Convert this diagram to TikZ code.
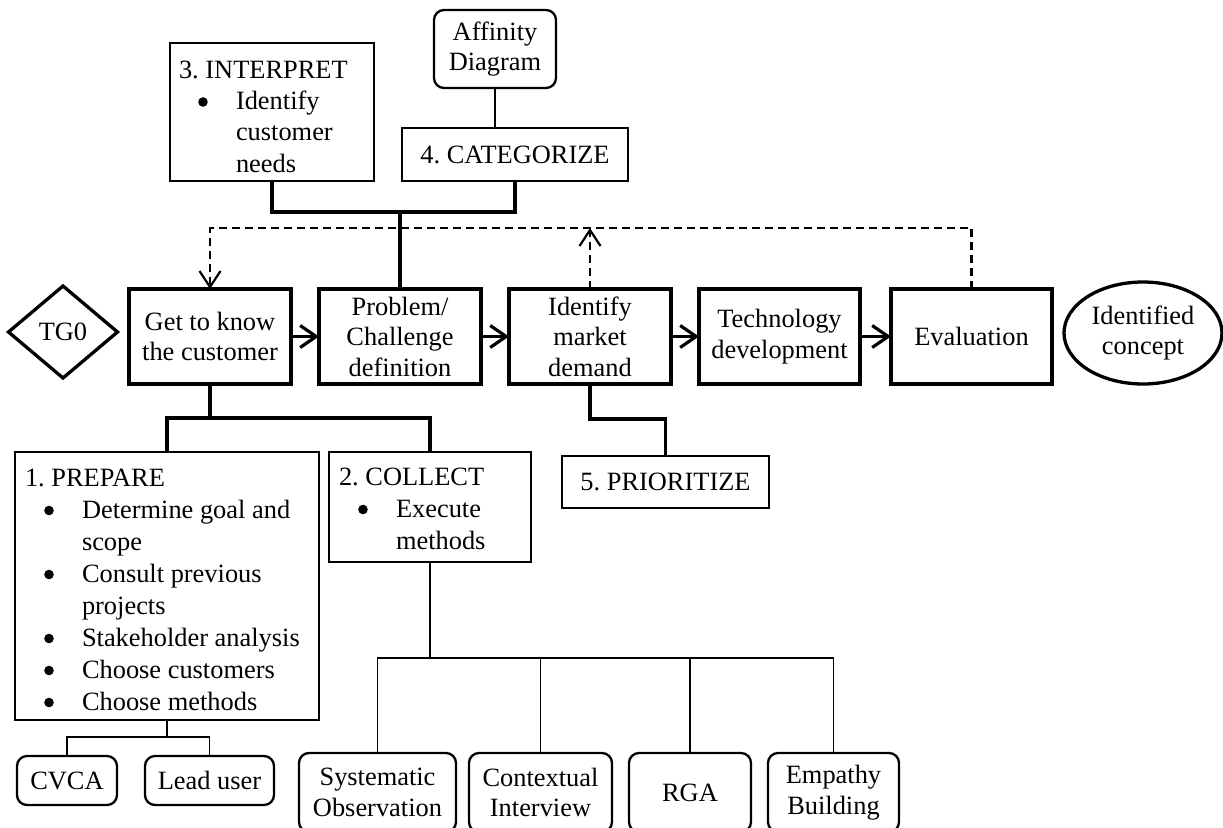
\documentclass[tikz,border=0pt]{standalone}
\usepackage{fontspec}
\setmainfont{Liberation Serif}
\usetikzlibrary{arrows.meta,shapes.geometric}

% list item indentation (bullets are drawn as dots beside the text)
\newcommand{\li}[1]{\hspace*{57pt}#1}
\newcommand{\firstline}{\rule{0pt}{24pt}}

\tikzset{
  every node/.style={inner sep=0pt, outer sep=0pt, font=\fontsize{26.4}{30.5}\selectfont\frenchspacing},
  stage/.style={draw, line width=3.3pt, minimum width=162pt, minimum height=95pt, align=center},
  stepbox/.style={draw, line width=2.3pt},
  listtext/.style={anchor=north west, align=left, font=\fontsize{26.4}{32}\selectfont\frenchspacing},
  method/.style={draw, line width=2.3pt, rounded corners=10pt, align=center},
  heavy/.style={line width=3.2pt},
  light/.style={line width=1.6pt},
  flow/.style={line width=3.2pt, -{Straight Barb[length=16pt, width=22pt]}, line join=miter},
  feedback/.style={line width=2.2pt, dash pattern=on 8pt off 5pt,
                   -{Straight Barb[length=16pt, width=21pt]}},
  dot/.style={fill=black},
}

\begin{document}
\begin{tikzpicture}[x=1pt, y=-1pt]
\useasboundingbox (0,0) rectangle (1223,827);

% main process chain
\node[draw, diamond, line width=3.3pt, minimum width=109pt, minimum height=92pt] (tg0) at (63,332) {TG0};
\node[stage] (know) at (210,336.5) {Get to know\\the customer};
\node[stage] (prob) at (400,336.5) {Problem/\\Challenge\\definition};
\node[stage] (mkt)  at (590,336.5) {Identify\\market\\demand};
\node[stage, minimum width=161pt] (tech) at (779.5,336.5) {Technology\\development};
\node[stage, minimum width=161pt] (eval) at (971.5,336.5) {Evaluation};
\node[draw, ellipse, line width=3.3pt, minimum width=158pt, minimum height=102pt, align=center]
  (concept) at (1143,333) {Identified\\concept};

\draw[flow] (know.east) -- (prob.west);
\draw[flow] (prob.east) -- (mkt.west);
\draw[flow] (mkt.east) -- (tech.west);
\draw[flow] (tech.east) -- (eval.west);

% feedback loops
\draw[feedback] (eval.north) -- ++(0,-61) -| (know.north);
\draw[feedback] (mkt.north) -- ++(0,-61);

% steps 3 and 4
\node[stepbox, minimum width=204pt, minimum height=138pt] (interp) at (272,112) {};
\node[listtext, font=\fontsize{26.4}{31.4}\selectfont\frenchspacing] (interpT) at (179,54)
  {\firstline 3. INTERPRET\\\li{Identify}\\\li{customer}\\\li{needs}};
\fill[dot] (203,102) circle (4.8);
\node[stepbox, minimum width=226pt, minimum height=53pt] (cat) at (515,154.5) {4. CATEGORIZE};
\node[method, minimum width=122pt, minimum height=78pt] (aff) at (495,49) {Affinity\\Diagram};
\draw[light] (aff.south) -- (aff.south |- cat.north);

\coordinate (jtop) at (400,212);
\draw[heavy] (interp.south) |- (jtop) -| (cat.south);
\draw[heavy] (jtop) -- (prob.north);

% steps 1 and 2
\node[stepbox, minimum width=304pt, minimum height=268pt] (prep) at (167,586) {};
\node[listtext] (prepT) at (25,462)
  {\firstline 1. PREPARE\\\li{Determine goal and}\\\li{scope}\\\li{Consult previous}\\\li{projects}\\
   \li{Stakeholder analysis}\\\li{Choose customers}\\\li{Choose methods}};
\foreach \yb in {518,582,646,678,710}
  \fill[dot] (49,\yb-7.5) circle (4.8);
\node[stepbox, minimum width=202pt, minimum height=110pt] (coll) at (430,507) {};
\node[listtext] (collT) at (339,461)
  {\firstline 2. COLLECT\\\li{Execute}\\\li{methods}};
\fill[dot] (363,509.5) circle (4.8);

\coordinate (jknow) at (210,418);
\draw[heavy] (know.south) -- (jknow);
\draw[heavy] (prep.north) |- (jknow) -| (coll.north);

% step 5
\node[stepbox, minimum width=207pt, minimum height=52pt] (prio) at (665.5,482) {5. PRIORITIZE};
\draw[heavy] (mkt.south) -- ++(0,35) -| (prio.north);

% methods for preparing
\node[method, minimum width=100pt, minimum height=49pt] (cvca) at (67,780.5) {CVCA};
\node[method, minimum width=129pt, minimum height=49pt] (lead) at (209.5,780.5) {Lead user};
\coordinate (jprep) at (167,737);
\draw[light] (prep.south) -- (jprep);
\draw[light] (cvca.north) |- (jprep) -| (lead.north);

% methods for collecting
\node[method, minimum width=157pt, minimum height=79pt] (sys) at (377.5,792.5) {Systematic\\Observation};
\node[method, minimum width=143pt, minimum height=79pt] (ctx) at (540.5,792.5) {Contextual\\Interview};
\node[method, minimum width=122pt, minimum height=79pt] (rga) at (690,792.5) {RGA};
\node[method, minimum width=131pt, minimum height=79pt] (emp) at (833.5,792.5) {Empathy\\Building};
\coordinate (jcoll) at (430,658);
\draw[line width=2pt] (coll.south) -- (jcoll);
\draw[light] (sys.north) |- (jcoll) -| (emp.north);
\draw[light] (ctx.north) -- (ctx.north |- jcoll);
\draw[light] (rga.north) -- (rga.north |- jcoll);
\end{tikzpicture}
\end{document}
